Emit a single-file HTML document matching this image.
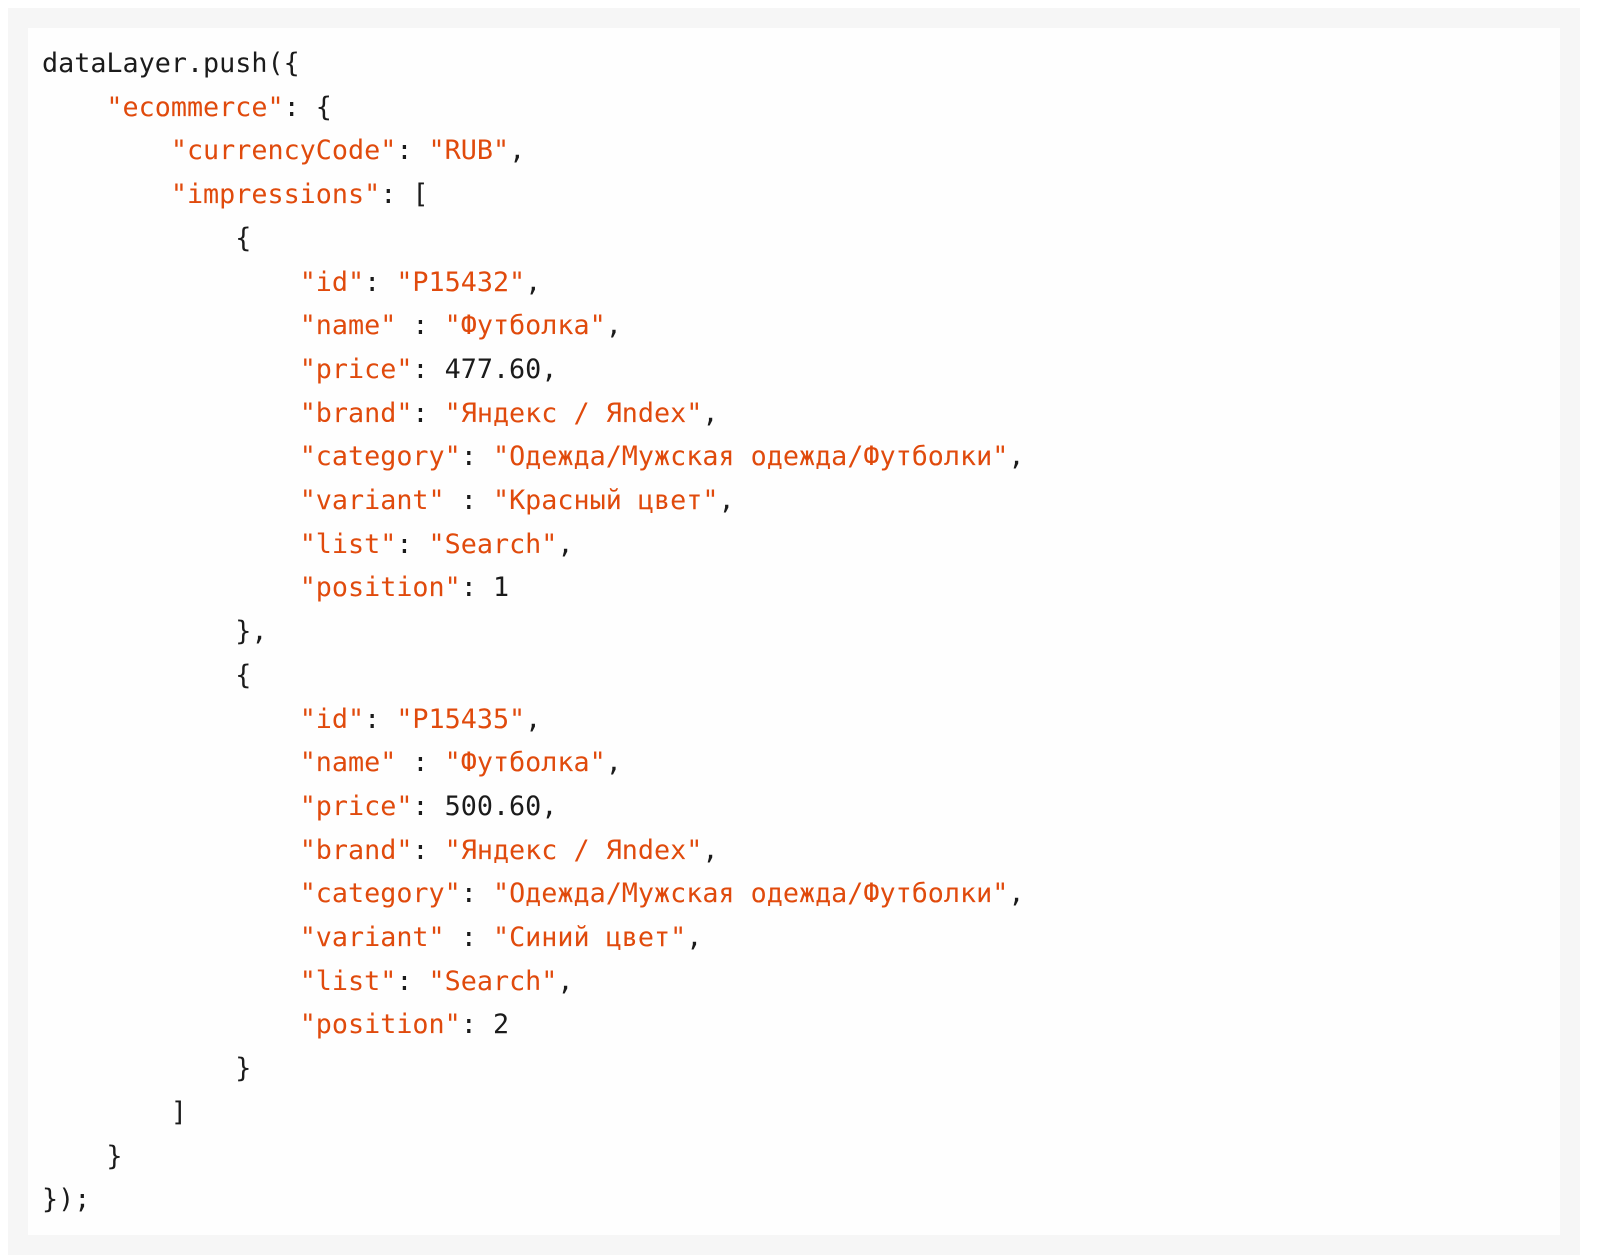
<!DOCTYPE html>
<html><head><meta charset="utf-8"><style>
html,body{margin:0;padding:0;background:#fff;width:1600px;height:1260px;overflow:hidden}
.outer{position:absolute;left:8px;top:8px;width:1572px;height:1247px;background:#f6f6f6}
.inner{position:absolute;left:20px;top:20px;width:1532px;height:1207px;background:#fefefe}
pre{margin:0;position:absolute;left:14px;top:14px;font-family:"DejaVu Sans Mono","Liberation Mono",monospace;font-size:26.75px;line-height:43.7px;color:#1b1b1b}
.s{color:#e04a0c}
</style></head><body>
<div class="outer"><div class="inner"><pre>dataLayer.push({
    <span class="s">"ecommerce"</span>: {
        <span class="s">"currencyCode"</span>: <span class="s">"RUB"</span>,
        <span class="s">"impressions"</span>: [
            {
                <span class="s">"id"</span>: <span class="s">"P15432"</span>,
                <span class="s">"name"</span> : <span class="s">"Футболка"</span>,
                <span class="s">"price"</span>: 477.60,
                <span class="s">"brand"</span>: <span class="s">"Яндекс / Яndex"</span>,
                <span class="s">"category"</span>: <span class="s">"Одежда/Мужская одежда/Футболки"</span>,
                <span class="s">"variant"</span> : <span class="s">"Красный цвет"</span>,
                <span class="s">"list"</span>: <span class="s">"Search"</span>,
                <span class="s">"position"</span>: 1
            },
            {
                <span class="s">"id"</span>: <span class="s">"P15435"</span>,
                <span class="s">"name"</span> : <span class="s">"Футболка"</span>,
                <span class="s">"price"</span>: 500.60,
                <span class="s">"brand"</span>: <span class="s">"Яндекс / Яndex"</span>,
                <span class="s">"category"</span>: <span class="s">"Одежда/Мужская одежда/Футболки"</span>,
                <span class="s">"variant"</span> : <span class="s">"Синий цвет"</span>,
                <span class="s">"list"</span>: <span class="s">"Search"</span>,
                <span class="s">"position"</span>: 2
            }
        ]
    }
});</pre></div></div>
</body></html>
